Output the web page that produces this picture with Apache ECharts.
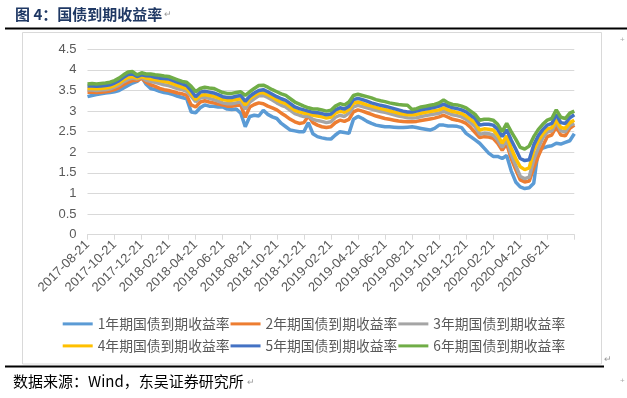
<!DOCTYPE html>
<html>
<head>
<meta charset="utf-8">
<script src="https://cdn.jsdelivr.net/npm/echarts@6/dist/echarts.min.js"></script>
<style>
  html, body { margin: 0; padding: 0; background: #fff; }
  #main { width: 627px; height: 398px; }
</style>
</head>
<body>
<div id="main"></div>
<script>
// 国债到期收益率 曲线图
var names = ['1年期国债到期收益率', '2年期国债到期收益率', '3年期国债到期收益率',
             '4年期国债到期收益率', '5年期国债到期收益率', '6年期国债到期收益率'];
var colors = ['#5B9BD5', '#ED7D31', '#A5A5A5', '#FFC000', '#4472C4', '#70AD47'];
var yTicks = [0, 0.5, 1, 1.5, 2, 2.5, 3, 3.5, 4, 4.5];

// 日期：每月1日、11日、21日，2017-08-21 至 2020-08-21
var dates = [];
for (var yy = 2017; yy <= 2020; yy++) {
  for (var mm = 1; mm <= 12; mm++) {
    [1, 11, 21].forEach(function (dd) {
      var key = yy * 10000 + mm * 100 + dd;
      if (key >= 20170821 && key <= 20200821) {
        dates.push(yy + '-' + (mm < 10 ? '0' + mm : mm) + '-' + (dd < 10 ? '0' + dd : dd));
      }
    });
  }
}

var y1 = [3.35, 3.38, 3.40, 3.42, 3.44, 3.45,
  3.47, 3.50, 3.56, 3.62, 3.68, 3.72,
  3.83, 3.65, 3.55, 3.52, 3.48, 3.45,
  3.43, 3.40, 3.36, 3.33, 3.30, 2.98,
  2.96, 3.08, 3.15, 3.12, 3.12, 3.10,
  3.10, 3.05, 3.04, 3.05, 2.95, 2.62,
  2.87, 2.90, 2.88, 3.02, 2.92, 2.86,
  2.82, 2.70, 2.62, 2.54, 2.52, 2.50,
  2.50, 2.72, 2.45, 2.38, 2.35, 2.33,
  2.32, 2.42, 2.50, 2.48, 2.46, 2.80,
  2.87, 2.82, 2.75, 2.70, 2.66, 2.64,
  2.62, 2.62, 2.61, 2.60, 2.60, 2.61,
  2.62, 2.60, 2.58, 2.56, 2.54, 2.58,
  2.66, 2.66, 2.64, 2.64, 2.63, 2.60,
  2.46, 2.38, 2.30, 2.22, 2.10, 1.98,
  1.90, 1.90, 1.85, 1.92, 1.55, 1.28,
  1.16, 1.12, 1.14, 1.25, 2.05, 2.10,
  2.14, 2.16, 2.22, 2.20, 2.24, 2.28,
  2.45];
var y2 = [3.46, 3.46, 3.45, 3.46, 3.47, 3.49,
  3.52, 3.57, 3.64, 3.70, 3.74, 3.74,
  3.80, 3.70, 3.64, 3.60, 3.55, 3.52,
  3.50, 3.47, 3.44, 3.42, 3.38, 3.15,
  3.10, 3.22, 3.25, 3.22, 3.20, 3.17,
  3.15, 3.12, 3.12, 3.14, 3.15, 2.85,
  3.10, 3.16, 3.20, 3.18, 3.12, 3.08,
  3.03, 2.95, 2.88, 2.80, 2.74, 2.70,
  2.72, 2.88, 2.72, 2.66, 2.62, 2.60,
  2.62, 2.72, 2.78, 2.75, 2.80, 2.98,
  3.03, 3.00, 2.96, 2.92, 2.88, 2.85,
  2.82, 2.80, 2.78, 2.76, 2.75, 2.74,
  2.74, 2.75, 2.77, 2.79, 2.81, 2.83,
  2.86, 2.90, 2.85, 2.80, 2.78, 2.75,
  2.70, 2.60, 2.48, 2.36, 2.38, 2.37,
  2.34, 2.22, 2.05, 2.20, 1.85, 1.58,
  1.33, 1.28, 1.30, 1.62, 1.90, 2.15,
  2.38, 2.42, 2.62, 2.42, 2.40, 2.58,
  2.66];
var y3 = [3.51, 3.51, 3.50, 3.51, 3.52, 3.54,
  3.58, 3.63, 3.71, 3.77, 3.80, 3.78,
  3.82, 3.75, 3.72, 3.70, 3.67, 3.64,
  3.62, 3.58, 3.55, 3.52, 3.48, 3.36,
  3.23, 3.32, 3.34, 3.31, 3.28, 3.24,
  3.20, 3.18, 3.18, 3.20, 3.22, 3.05,
  3.22, 3.30, 3.37, 3.38, 3.33, 3.27,
  3.20, 3.14, 3.10, 3.02, 2.94, 2.90,
  2.87, 2.88, 2.80, 2.77, 2.75, 2.72,
  2.74, 2.85, 2.90, 2.87, 2.95, 3.10,
  3.14, 3.11, 3.08, 3.05, 3.02, 2.99,
  2.97, 2.94, 2.91, 2.88, 2.86, 2.84,
  2.83, 2.84, 2.87, 2.89, 2.91, 2.93,
  2.95, 3.00, 2.95, 2.91, 2.89, 2.86,
  2.80, 2.72, 2.62, 2.44, 2.46, 2.45,
  2.42, 2.30, 2.12, 2.30, 1.95, 1.68,
  1.42, 1.36, 1.40, 1.82, 2.10, 2.35,
  2.49, 2.52, 2.73, 2.52, 2.50, 2.65,
  2.70];
var y4 = [3.55, 3.55, 3.54, 3.55, 3.56, 3.58,
  3.62, 3.68, 3.76, 3.82, 3.84, 3.80,
  3.84, 3.80, 3.78, 3.76, 3.74, 3.72,
  3.70, 3.66, 3.62, 3.58, 3.55, 3.42,
  3.28, 3.38, 3.40, 3.38, 3.36, 3.32,
  3.28, 3.26, 3.26, 3.28, 3.30, 3.15,
  3.30, 3.38, 3.44, 3.45, 3.40, 3.34,
  3.27, 3.22, 3.18, 3.10, 3.02, 2.98,
  2.95, 2.94, 2.90, 2.88, 2.86, 2.83,
  2.85, 2.95, 3.00, 2.97, 3.04, 3.19,
  3.22, 3.19, 3.15, 3.12, 3.09, 3.06,
  3.04, 3.01, 2.98, 2.95, 2.93, 2.91,
  2.91, 2.92, 2.95, 2.97, 2.99, 3.01,
  3.03, 3.08, 3.03, 2.99, 2.97, 2.94,
  2.88, 2.80, 2.72, 2.54, 2.57, 2.56,
  2.54, 2.42, 2.22, 2.40, 2.10, 1.85,
  1.65, 1.58, 1.62, 2.05, 2.28, 2.45,
  2.57, 2.60, 2.79, 2.60, 2.58, 2.72,
  2.78];
var y5 = [3.61, 3.61, 3.60, 3.61, 3.62, 3.64,
  3.68, 3.74, 3.82, 3.89, 3.90, 3.84,
  3.88, 3.86, 3.85, 3.82, 3.80, 3.79,
  3.78, 3.74, 3.70, 3.66, 3.62, 3.50,
  3.35, 3.46, 3.48, 3.46, 3.44, 3.40,
  3.35, 3.33, 3.33, 3.36, 3.38, 3.24,
  3.36, 3.44, 3.50, 3.52, 3.47, 3.41,
  3.35, 3.30, 3.26, 3.18, 3.10, 3.06,
  3.03, 3.00, 2.97, 2.96, 2.94, 2.91,
  2.93, 3.03, 3.08, 3.05, 3.12, 3.28,
  3.31, 3.28, 3.24, 3.20, 3.17, 3.14,
  3.12, 3.09, 3.06, 3.03, 3.00, 2.98,
  2.98, 3.00, 3.03, 3.05, 3.07, 3.09,
  3.12, 3.17, 3.12, 3.08, 3.06, 3.03,
  2.98, 2.90, 2.82, 2.66, 2.68, 2.68,
  2.66, 2.56, 2.38, 2.55, 2.30, 2.08,
  1.85, 1.80, 1.82, 2.18, 2.40, 2.55,
  2.66, 2.70, 2.91, 2.72, 2.70, 2.84,
  2.91];
var y6 = [3.66, 3.67, 3.66, 3.67, 3.68, 3.70,
  3.74, 3.80, 3.88, 3.95, 3.96, 3.88,
  3.93, 3.90, 3.90, 3.88, 3.87, 3.85,
  3.84, 3.80, 3.76, 3.72, 3.70, 3.60,
  3.47, 3.55, 3.58, 3.56, 3.55, 3.50,
  3.45, 3.43, 3.43, 3.45, 3.47, 3.38,
  3.47, 3.55, 3.62, 3.63, 3.58, 3.52,
  3.47, 3.42, 3.38, 3.30, 3.22, 3.17,
  3.12, 3.08, 3.05, 3.05, 3.03, 3.00,
  3.02, 3.12, 3.18, 3.15, 3.22, 3.38,
  3.41, 3.38, 3.35, 3.32, 3.28, 3.25,
  3.23, 3.20, 3.18, 3.16, 3.15, 3.14,
  3.04, 3.06, 3.10, 3.12, 3.14, 3.16,
  3.20, 3.27, 3.20, 3.16, 3.15, 3.12,
  3.08, 3.00, 2.92, 2.78, 2.80, 2.80,
  2.78, 2.68, 2.50, 2.70, 2.50, 2.32,
  2.12, 2.08, 2.15, 2.38, 2.55, 2.68,
  2.78, 2.82, 3.03, 2.85, 2.82, 2.95,
  3.00];
var values = [y1, y2, y3, y4, y5, y6];

var myChart = echarts.init(document.getElementById('main'));

var cjk = '"Noto Sans CJK SC", sans-serif';
var legendText = { fontSize: 13.8, color: '#595959', fontFamily: cjk };

var option = {
  animation: false,
  backgroundColor: '#fff',
  color: colors,
  grid: {
    left: 87.5,
    right: 52.7,
    top: 49.3,
    bottom: 163.3
  },
  legend: [
    {
      data: names.slice(0, 3),
      left: 62.7, top: 317, padding: 0,
      icon: 'rect', itemWidth: 30, itemHeight: 3, itemGap: 1,
      textStyle: legendText
    },
    {
      data: names.slice(3, 6),
      left: 62.7, top: 339, padding: 0,
      icon: 'rect', itemWidth: 30, itemHeight: 3, itemGap: 1,
      textStyle: legendText
    }
  ],
  xAxis: {
    type: 'category',
    boundaryGap: false,
    data: dates,
    axisLine: { lineStyle: { color: '#d9d9d9' } },
    axisTick: { interval: 5, length: 5, lineStyle: { color: '#d9d9d9' } },
    axisLabel: {
      interval: 5,
      rotate: 45,
      margin: 8,
      fontSize: 13,
      color: '#595959',
      fontFamily: '"Liberation Sans", Arial, sans-serif',
      formatter: function (v, idx) {
        return idx === dates.length - 1 ? '' : v;
      }
    }
  },
  yAxis: {
    type: 'value',
    min: yTicks[0],
    max: yTicks[yTicks.length - 1],
    interval: 0.5,
    axisLine: { show: false },
    axisTick: { show: false },
    axisLabel: {
      margin: 11,
      fontSize: 13,
      color: '#595959',
      fontFamily: '"Liberation Sans", Arial, sans-serif'
    },
    splitLine: { lineStyle: { color: '#d9d9d9' } }
  },
  series: names.map(function (n, k) {
    return {
      name: n,
      type: 'line',
      data: values[k],
      showSymbol: false,
      lineStyle: { width: 3.5, color: colors[k] }
    };
  }),
  graphic: [
    {
      type: 'text', left: 15, top: 7,
      style: { text: '图 4：国债到期收益率', font: 'bold 15px "Noto Sans CJK SC"', fill: '#1F3864' }
    },
    {
      type: 'text', left: 164, top: 10,
      style: { text: '↵', font: '9px sans-serif', fill: '#999' }
    },
    {
      type: 'line',
      shape: { x1: 5, y1: 28.5, x2: 627, y2: 28.5 },
      style: { stroke: '#000', lineWidth: 2 }
    },
    {
      type: 'rect',
      shape: { x: 22.5, y: 32.5, width: 579, height: 331.5 },
      style: { fill: 'none', stroke: '#d9d9d9', lineWidth: 1 }
    },
    {
      type: 'line',
      shape: { x1: 5, y1: 366.5, x2: 604, y2: 366.5 },
      style: { stroke: '#000', lineWidth: 2 }
    },
    {
      type: 'text', left: 604, top: 355,
      style: { text: '↵', font: '9px sans-serif', fill: '#999' }
    },
    {
      type: 'text', left: 13, top: 374,
      style: { text: '数据来源：Wind，东吴证券研究所', font: '15px "Noto Sans CJK SC"', fill: '#000' }
    },
    {
      type: 'text', left: 247, top: 378,
      style: { text: '↵', font: '9px sans-serif', fill: '#999' }
    },
    {
      type: 'text', left: 620, top: 36,
      style: { text: '+', font: '8px sans-serif', fill: '#aaa' }
    },
    {
      type: 'text', left: 620, top: 377,
      style: { text: '+', font: '8px sans-serif', fill: '#aaa' }
    }
  ]
};

myChart.setOption(option);
</script>
</body>
</html>
